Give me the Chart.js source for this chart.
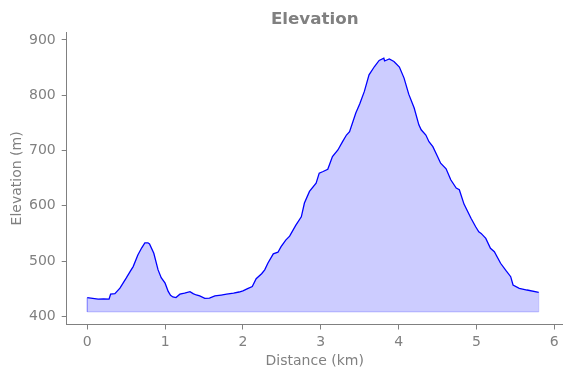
<!DOCTYPE html>
<html>
<head>
<meta charset="utf-8">
<script src="https://cdn.jsdelivr.net/npm/chart.js@4.4.0/dist/chart.umd.min.js"></script>
<style>
  body { margin: 0; background: #fff; }
  #wrap { width: 571px; height: 378px; }
</style>
</head>
<body>
<div id="wrap"><canvas id="elev-chart" width="571" height="378"></canvas></div>
<script>
// distance along the route (km) and elevation (m)
const distKm = [0.00, 0.07, 0.14, 0.21, 0.28, 0.30, 0.355, 0.42, 0.50, 0.55, 0.59, 0.65, 0.70, 0.74, 0.78, 0.80,
  0.855, 0.91, 0.95, 1.00, 1.04, 1.07, 1.10, 1.14, 1.19, 1.25, 1.32, 1.36, 1.40, 1.445, 1.51, 1.57, 1.64,
  1.72, 1.79, 1.88, 1.95, 2.00, 2.06, 2.12, 2.17, 2.24, 2.28, 2.32, 2.39, 2.45, 2.49, 2.55, 2.60, 2.68,
  2.75, 2.79, 2.855, 2.94, 2.98, 3.03, 3.09, 3.15, 3.22, 3.28, 3.33, 3.37, 3.45, 3.50, 3.56, 3.62, 3.69,
  3.75, 3.81, 3.82, 3.88, 3.94, 4.01, 4.07, 4.13, 4.20, 4.26, 4.29, 4.35, 4.39, 4.44, 4.50, 4.54, 4.61,
  4.67, 4.74, 4.78, 4.84, 4.93, 4.99, 5.03, 5.06, 5.12, 5.18, 5.23, 5.31, 5.38, 5.44, 5.47, 5.55, 5.65, 5.80];
const elevM = [433.7, 432.5, 431, 431.5, 431, 440, 441, 451, 469, 481, 490, 511, 524, 533, 533, 531,
  514, 484, 470, 460, 445, 438, 435, 434, 440, 442, 444.6, 441, 438.6, 437, 432.6, 433, 437,
  438.5, 440, 442, 444, 446, 450, 454, 468, 477, 484, 496, 513, 516, 526, 538, 545, 565,
  580, 605, 626, 641, 659, 662, 666, 689, 701, 716, 728, 734, 768, 784, 807, 837, 852,
  863, 867, 862, 865.6, 861, 851, 831, 802, 777, 746.5, 737.5, 728, 716, 707, 689, 677, 667,
  647, 632, 629, 603, 577.5, 562, 553, 550, 541, 523, 517, 496, 482.6, 471.7, 456.7, 450.7, 447.6, 443.5];
const fillBase = 408;

const xTicks = [0, 1, 2, 3, 4, 5, 6];
const yTicks = [400, 500, 600, 700, 800, 900];

const GREY = '#808080';
const FONT = '"DejaVu Sans", sans-serif';

const profile = distKm.map((d, i) => ({ x: d, y: elevM[i] }));
const last = distKm.length - 1;
// outline of the shaded area (sides + base)
const fillEdge = [
  { x: distKm[0], y: elevM[0] },
  { x: distKm[0], y: fillBase },
  { x: distKm[last], y: fillBase },
  { x: distKm[last], y: elevM[last] }
];

const titlePlugin = {
  id: 'axesTitle',
  afterDraw(chart) {
    const { ctx, chartArea } = chart;
    ctx.save();
    ctx.font = 'bold 16.7px ' + FONT;
    ctx.fillStyle = GREY;
    ctx.textAlign = 'center';
    ctx.textBaseline = 'alphabetic';
    ctx.fillText('Elevation', (chartArea.left + chartArea.right) / 2, 24);
    ctx.restore();
  }
};

new Chart(document.getElementById('elev-chart'), {
  type: 'line',
  data: {
    datasets: [
      {
        data: profile,
        borderColor: '#0000ff',
        borderWidth: 1.3,
        backgroundColor: 'rgba(0, 0, 255, 0.2)',
        fill: { value: fillBase },
        pointRadius: 0,
        tension: 0
      },
      {
        data: fillEdge,
        borderColor: 'rgba(0, 0, 255, 0.2)',
        borderWidth: 1,
        fill: false,
        pointRadius: 0,
        tension: 0
      }
    ]
  },
  options: {
    responsive: false,
    animation: false,
    layout: { padding: { top: 32.3, right: 8.3, left: 0, bottom: 0 } },
    plugins: {
      legend: { display: false },
      tooltip: { enabled: false },
      title: { display: false }
    },
    scales: {
      x: {
        type: 'linear',
        min: -0.264,
        max: 6.108,
        afterBuildTicks: s => { s.ticks = xTicks.map(v => ({ value: v })); },
        afterFit: s => { s.height = 53.5; },
        grid: { display: true, drawOnChartArea: false, tickLength: 5, color: GREY },
        border: { display: true, color: GREY, width: 1 },
        ticks: { color: GREY, font: { family: FONT, size: 14 }, padding: 4 },
        title: {
          display: true, text: 'Distance (km)', color: GREY,
          font: { family: FONT, size: 14 }, padding: { top: 8.6, bottom: 8.6 }
        }
      },
      y: {
        type: 'linear',
        min: 385.2,
        max: 913.9,
        afterBuildTicks: s => { s.ticks = yTicks.map(v => ({ value: v })); },
        afterFit: s => { s.width = 66.7; },
        grid: { display: true, drawOnChartArea: false, tickLength: 5, color: GREY },
        border: { display: true, color: GREY, width: 1 },
        ticks: { color: GREY, font: { family: FONT, size: 14 }, padding: 6 },
        title: {
          display: true, text: 'Elevation (m)', color: GREY,
          font: { family: FONT, size: 14 }, padding: { top: 8.6, bottom: 8.6 }
        }
      }
    }
  },
  plugins: [titlePlugin]
});
</script>
</body>
</html>
